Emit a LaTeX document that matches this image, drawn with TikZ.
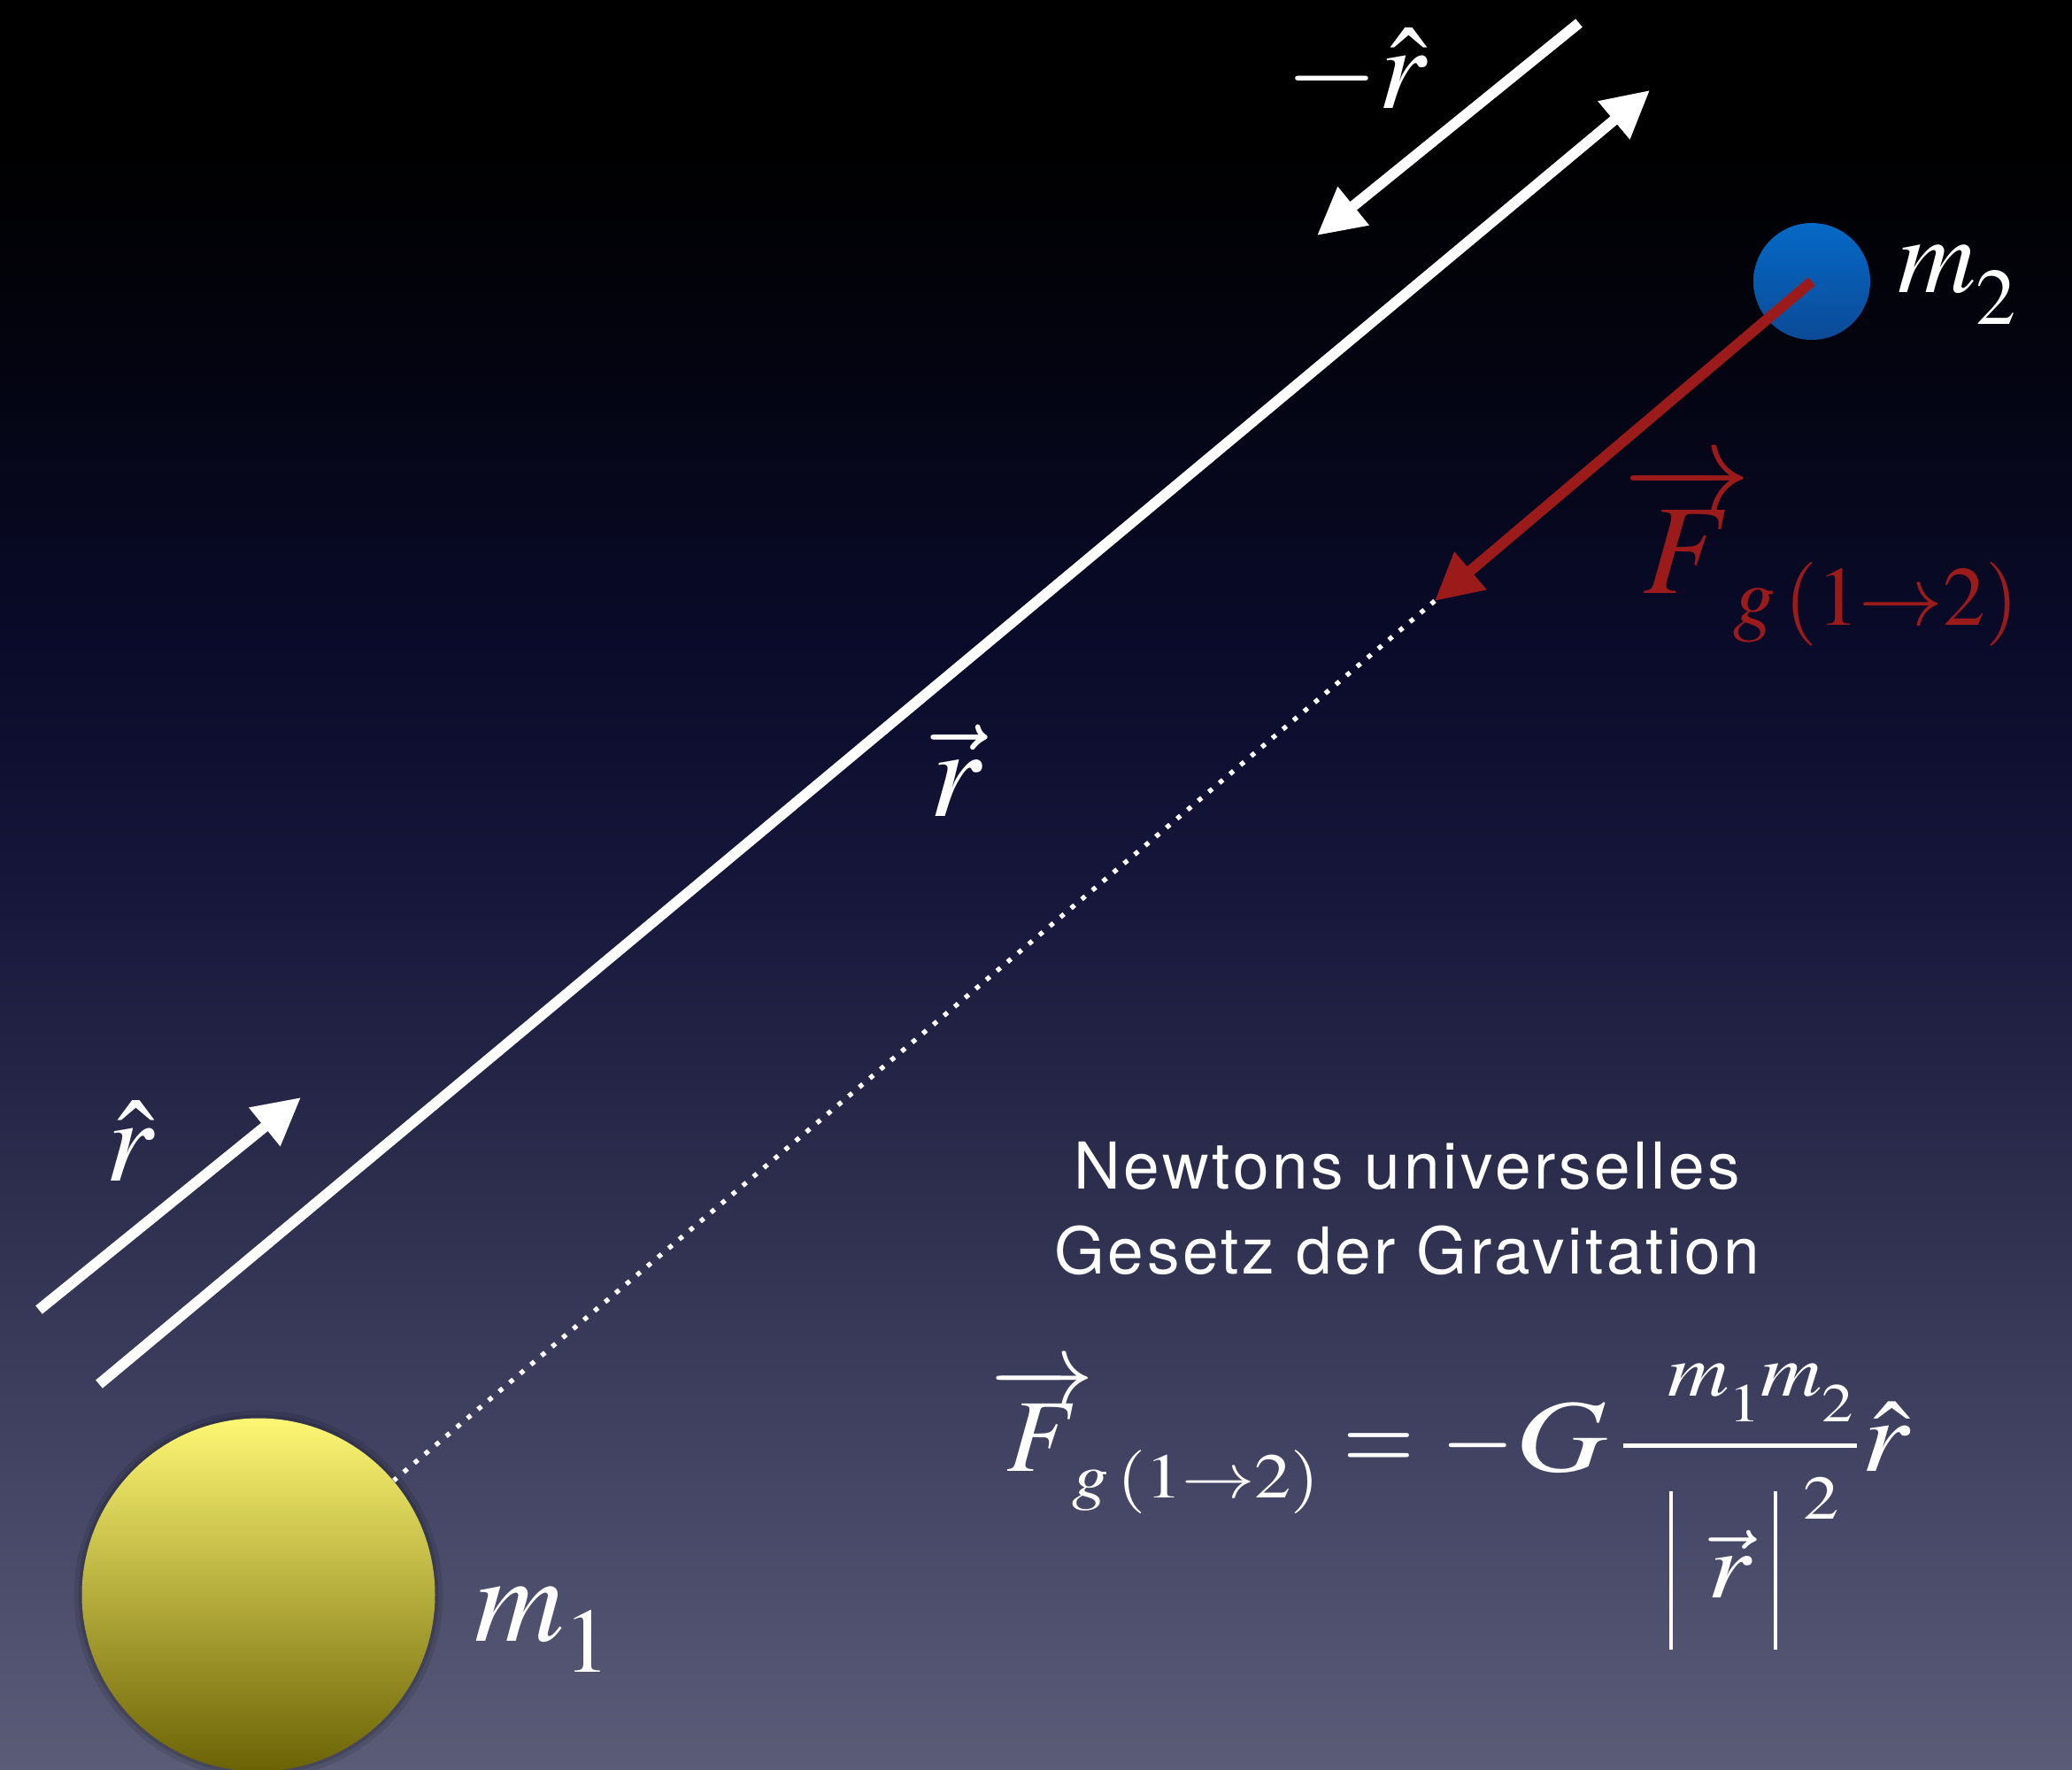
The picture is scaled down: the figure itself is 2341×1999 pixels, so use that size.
\documentclass[tikz,border=0pt]{standalone}
\usepackage{mathptmx}
\usepackage{amsmath}
\usepackage{graphicx}
\usepackage[no-math]{fontspec}
\newfontfamily\heros{TeX Gyre Heros}[LetterSpace=5]
\usetikzlibrary{arrows.meta}
\definecolor{bg0}{HTML}{000000}
\definecolor{bg1}{HTML}{03040F}
\definecolor{bg2}{HTML}{090A28}
\definecolor{bg3}{HTML}{15163A}
\definecolor{bg4}{HTML}{2A2B4B}
\definecolor{bg5}{HTML}{3F4060}
\definecolor{bg6}{HTML}{5B5C78}
\definecolor{fred}{HTML}{9B1B1B}
\definecolor{blueT}{HTML}{0569C6}
\definecolor{blueB}{HTML}{0B4A97}
\definecolor{yelT}{HTML}{FDF774}
\definecolor{yelM}{HTML}{B5AD3C}
\definecolor{yelB}{HTML}{6B6205}
\pgfdeclareverticalshading{bgshade}{100bp}{color(0bp)=(bg6); color(25bp)=(bg6); color(35bp)=(bg5); color(42.5bp)=(bg4); color(50bp)=(bg3); color(57.5bp)=(bg2); color(65bp)=(bg1); color(71bp)=(bg0); color(100bp)=(bg0)}
\begin{document}
\begin{tikzpicture}[x=0.3pt,y=-0.3pt,
  wvec/.style={draw=white, line width=3.6pt, -{Triangle[length=15.9pt 0,width=15.9pt 0]}},
  fvec/.style={draw=fred, line width=3.6pt, -{Triangle[length=15.9pt 0,width=15.9pt 0]}},
  dotline/.style={draw=white, line width=1.6pt, dash pattern=on 1.6pt off 3.1pt},
  lab/.style={text=white, inner sep=0pt, anchor=base west},
  fml/.style={text=white, inner sep=0pt},
  mass/.style={circle, inner sep=0pt}]
\shade[shading=bgshade] (0,0) rectangle (2341,1999);
\useasboundingbox (0,0) rectangle (2341,1999);

% masses
\node[mass, fill=black, opacity=0.10, minimum size=125pt] (m1shadow) at (292,1802) {};
\node[mass, fill=black, opacity=0.12, minimum size=122pt] (m1shadowb) at (292,1802) {};
\node[mass, top color=yelT, bottom color=yelB, middle color=yelM, minimum size=119.7pt] (m1) at (292,1802) {};
\node[mass, top color=blueT, bottom color=blueB, minimum size=39.6pt] (m2) at (2047,318) {};

% vectors
\coordinate (rs) at (112,1564);
\coordinate (re) at (1864,102);
\coordinate (nhs) at (1784,26);
\coordinate (nhe) at (1488,266);
\coordinate (hs) at (44,1480);
\coordinate (he) at (340,1240);
\coordinate (ftip) at (1621,679);

\draw[dotline] (ftip) -- (m1);
\draw[wvec] (rs) -- (re);
\draw[wvec] (nhs) -- (nhe);
\draw[wvec] (hs) -- (he);
\draw[fvec] (m2.center) -- (ftip);

% labels
\node[lab, font=\fontsize{36.6}{40}\selectfont] (lm2) at (2144,330) {$m$\raisebox{-10.8pt}{$\scriptstyle 2$}};
\node[lab, font=\fontsize{42}{46}\selectfont] (lm1) at (536,1854) {$m$\raisebox{-10.5pt}{$\scriptstyle 1$}};
\node[lab, font=\fontsize{40.5}{44}\selectfont] (lrh) at (119,1334) {$\hat{r}$};
\node[lab, font=\fontsize{40.5}{44}\selectfont] (lnrh) at (1452,122) {$-\hat{r}$};
\node[lab, font=\fontsize{43.5}{48}\selectfont] (lr) at (1050,922) {$\vec{r}$};
\node[lab, text=fred, font=\fontsize{43.2}{48}\selectfont] (lF) at (1834,670) {$\overrightarrow{F}$\hspace{-6pt}\raisebox{-10.8pt}{\fontsize{28.5}{32}\selectfont$g\,(1{\to}2)$}};

% title
\node[fml, anchor=base, font=\heros\fontsize{21.9}{26}\selectfont] (t1) at (1590,1343) {Newtons universelles};
\node[fml, anchor=base, font=\heros\fontsize{21.9}{26}\selectfont] (t2) at (1590,1439) {Gesetz der Gravitation};

% formula
\node[fml, anchor=base west, font=\fontsize{35}{40}\selectfont] (fF) at (1119,1662) {$\overrightarrow{F}$};
\node[fml, anchor=base west, font=\fontsize{21.5}{25}\selectfont] (fsub) at (1211,1692) {\scalebox{1.15}[1]{$g\,(1{\to}2)$}};
\node[fml, anchor=base, font=\fontsize{35}{40}\selectfont] (feq) at (1558,1662) {\scalebox{0.89}[1]{$=$}};
\node[fml, anchor=base, font=\fontsize{35}{40}\selectfont] (fmin) at (1670,1662) {\scalebox{0.91}[1]{$-$}};
\node[fml, anchor=base, font=\fontsize{35}{40}\selectfont] (fG) at (1764,1662) {\scalebox{1.23}[1]{$G$}};
\node[fml, anchor=base, font=\fontsize{25}{30}\selectfont] (fnum) at (1989,1577) {\scalebox{1.15}[1]{$m$\raisebox{-8.7pt}{$\scriptstyle 1$}$m$\raisebox{-8.7pt}{$\scriptstyle 2$}}};
\coordinate (barL) at (1834,1633);
\coordinate (barR) at (2098,1633);
\draw[white, line width=1.5pt] (barL) -- (barR);
\coordinate (abs1t) at (1888,1685);
\coordinate (abs1b) at (1888,1864);
\coordinate (abs2t) at (2006,1685);
\coordinate (abs2b) at (2006,1864);
\draw[white, line width=1.4pt] (abs1t) -- (abs1b);
\draw[white, line width=1.4pt] (abs2t) -- (abs2b);
\node[fml, anchor=base, font=\fontsize{32}{36}\selectfont] (fden) at (1955,1805) {\scalebox{1.15}[1]{$\vec{r}$}};
\node[fml, anchor=base west, font=\fontsize{21}{25}\selectfont] (fexp) at (2037,1716) {\scalebox{1.15}[1]{$2$}};
\node[fml, anchor=base west, font=\fontsize{35}{40}\selectfont] (frh) at (2103,1662) {\scalebox{1.15}[1]{$\hat{r}$}};
\end{tikzpicture}
\end{document}
